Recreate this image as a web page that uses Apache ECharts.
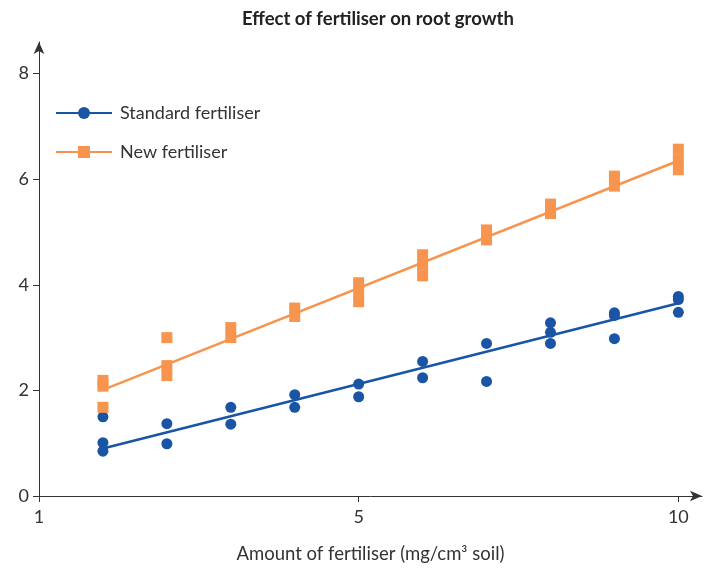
<!DOCTYPE html>
<html>
<head>
<meta charset="utf-8">
<script src="https://cdn.jsdelivr.net/npm/echarts@6/dist/echarts.min.js"></script>
<style>html,body{margin:0;padding:0;background:#fff}#c{width:704px;height:569px}</style>
</head>
<body>
<div id="c"></div>
<script>
// Tick positions and their printed labels (the first tick is printed as "1")
var xTickValues = [0, 5, 10];
var xTickLabels = ['1', '5', '10'];

// Standard fertiliser: [amount, root growth]
var standardPoints = [
  [1, 1.50], [1, 1.01], [1, 0.85],
  [2, 1.37], [2, 0.99],
  [3, 1.68], [3, 1.36],
  [4, 1.92], [4, 1.68],
  [5, 2.12], [5, 1.88],
  [6, 2.55], [6, 2.24],
  [7, 2.89], [7, 2.17],
  [8, 3.28], [8, 3.10], [8, 2.89],
  [9, 3.47], [9, 3.42], [9, 2.98],
  [10, 3.78], [10, 3.72], [10, 3.48]
];
// New fertiliser: [amount, root growth]
var newPoints = [
  [1, 2.19], [1, 2.08], [1, 1.68],
  [2, 3.00], [2, 2.47], [2, 2.28],
  [3, 3.19], [3, 3.00],
  [4, 3.56], [4, 3.40],
  [5, 4.04], [5, 3.86], [5, 3.68],
  [6, 4.57], [6, 4.37], [6, 4.17],
  [7, 5.04], [7, 4.85],
  [8, 5.53], [8, 5.35],
  [9, 6.06], [9, 5.87],
  [10, 6.57], [10, 6.37], [10, 6.18]
];
// Trend lines (end points)
var standardTrend = [[1, 0.90], [10, 3.65]];
var newTrend = [[1, 2.01], [10, 6.35]];

var blue = '#1a55a5';
var orange = '#f7954f';
var textColor = '#333333';
var font = 'Lato';

var chart = echarts.init(document.getElementById('c'));
chart.setOption({
  animation: false,
  backgroundColor: '#ffffff',
  title: {
    text: 'Effect of fertiliser on root growth',
    left: 237,
    top: 5,
    textStyle: { fontFamily: font, fontSize: 18.5, fontWeight: 'bold', color: '#222' }
  },
  legend: {
    left: 50,
    top: 99,
    orient: 'vertical',
    itemWidth: 56,
    itemHeight: 15,
    itemGap: 21,
    textStyle: { fontFamily: font, fontSize: 18, color: textColor, padding: [0, 0, 0, 3] },
    data: ['Standard fertiliser', 'New fertiliser']
  },
  grid: { left: 39, right: 2, top: 42, bottom: 73, containLabel: false },
  xAxis: {
    type: 'value',
    min: 0,
    max: 10.37,
    interval: 5,
    name: 'Amount of fertiliser (mg/cm³ soil)',
    nameLocation: 'middle',
    nameGap: 49,
    nameTextStyle: { fontFamily: font, fontSize: 18.5, color: textColor },
    splitLine: { show: false },
    axisLine: { show: true, symbol: ['none', 'arrow'], symbolSize: [8, 12], lineStyle: { color: textColor, width: 1 } },
    axisTick: { show: true, length: 6, lineStyle: { color: textColor } },
    axisLabel: {
      fontFamily: font, fontSize: 18, color: textColor, margin: 12, showMaxLabel: false,
      formatter: function (v) {
        var i = xTickValues.indexOf(v);
        return i >= 0 ? xTickLabels[i] : '';
      }
    }
  },
  yAxis: {
    type: 'value',
    min: 0,
    max: 8.6,
    interval: 2,
    splitLine: { show: false },
    axisLine: { show: true, symbol: ['none', 'arrow'], symbolSize: [8, 12], lineStyle: { color: textColor, width: 1 } },
    axisTick: { show: true, length: 6, lineStyle: { color: textColor } },
    axisLabel: { fontFamily: font, fontSize: 18, color: textColor, margin: 10, showMaxLabel: false,
      formatter: function (v) { return (v % 2 === 0) ? String(v) : ''; } }
  },
  series: [
    {
      name: 'Standard fertiliser',
      type: 'line',
      data: standardTrend,
      showSymbol: false,
      symbol: 'circle',
      symbolSize: 11,
      itemStyle: { color: blue },
      lineStyle: { color: blue, width: 2.5 },
      z: 3
    },
    {
      name: 'New fertiliser',
      type: 'line',
      data: newTrend,
      showSymbol: false,
      symbol: 'rect',
      symbolSize: 11,
      itemStyle: { color: orange },
      lineStyle: { color: orange, width: 2.5 },
      z: 3
    },
    {
      name: 'Standard points',
      type: 'scatter',
      data: standardPoints,
      symbol: 'circle',
      symbolSize: 11,
      itemStyle: { color: blue, opacity: 1 },
      z: 4
    },
    {
      name: 'New points',
      type: 'scatter',
      data: newPoints,
      symbol: 'rect',
      symbolSize: [11, 11],
      itemStyle: { color: orange, opacity: 1 },
      z: 4
    }
  ]
});
</script>
</body>
</html>
